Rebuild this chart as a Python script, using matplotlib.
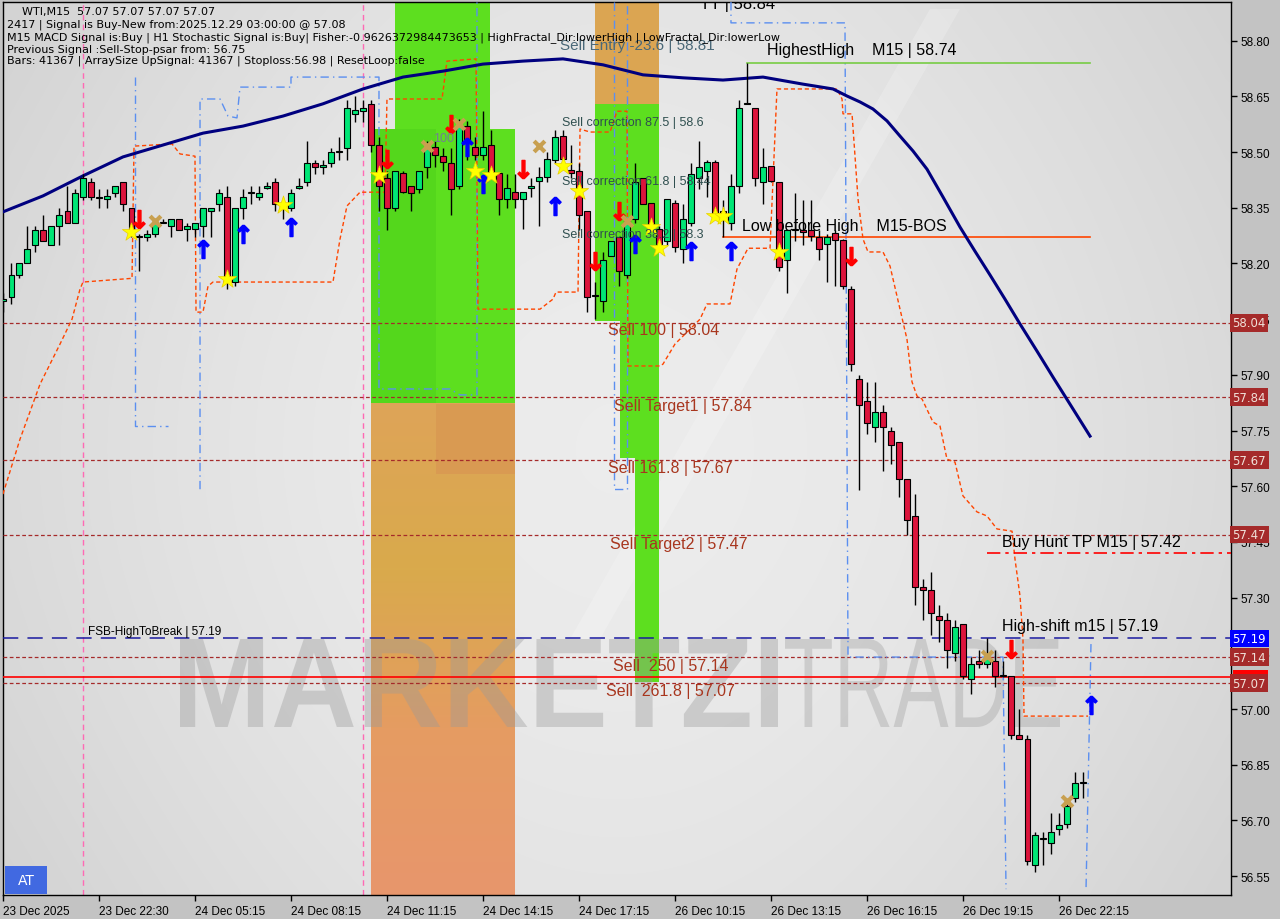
import numpy as np
import matplotlib.pyplot as plt
from matplotlib.patches import Rectangle, PathPatch, Polygon
from matplotlib.textpath import TextPath
from matplotlib.font_manager import FontProperties
from matplotlib.transforms import Affine2D, blended_transform_factory
from matplotlib.colors import LinearSegmentedColormap

# WTI M15 candles, bar index 0..135
opens = [58.10, 58.11, 58.17, 58.20, 58.25, 58.29, 58.25, 58.30, 58.34, 58.31,
         58.38, 58.42, 58.375, 58.373, 58.39, 58.42, 58.35, 58.27, 58.27, 58.28,
         58.31, 58.30, 58.32, 58.293, 58.293, 58.30, 58.34, 58.36, 58.38, 58.15,
         58.35, 58.39, 58.38, 58.402, 58.42, 58.35, 58.35, 58.402, 58.42, 58.47,
         58.461, 58.47, 58.50, 58.51, 58.603, 58.611, 58.63, 58.52, 58.43, 58.35,
         58.443, 58.41, 58.40, 58.46, 58.513, 58.49, 58.47, 58.41, 58.571, 58.513,
         58.492, 58.52, 58.443, 58.374, 58.392, 58.374, 58.403, 58.423, 58.432, 58.48,
         58.543, 58.452, 58.45, 58.34, 58.113, 58.10, 58.22, 58.27, 58.17, 58.32,
         58.43, 58.363, 58.293, 58.26, 58.363, 58.24, 58.31, 58.43, 58.45, 58.473,
         58.34, 58.31, 58.41, 58.63, 58.62, 58.42, 58.462, 58.42, 58.21, 58.29,
         58.29, 58.291, 58.27, 58.253, 58.282, 58.263, 58.13, 57.89, 57.83, 57.76,
         57.80, 57.75, 57.72, 57.62, 57.52, 57.33, 57.32, 57.25, 57.24, 57.15,
         57.23, 57.08, 57.13, 57.121, 57.13, 57.09, 57.09, 56.93, 56.92, 56.58,
         56.65, 56.64, 56.678, 56.69, 56.76, 56.80]
highs = [58.12, 58.20, 58.20, 58.30, 58.30, 58.33, 58.30, 58.35, 58.41, 58.40,
         58.44, 58.43, 58.40, 58.40, 58.41, 58.42, 58.35, 58.28, 58.29, 58.32,
         58.32, 58.32, 58.32, 58.31, 58.31, 58.35, 58.35, 58.40, 58.41, 58.35,
         58.40, 58.41, 58.41, 58.42, 58.43, 58.36, 58.40, 58.43, 58.53, 58.48,
         58.48, 58.51, 58.54, 58.64, 58.65, 58.64, 58.64, 58.54, 58.45, 58.45,
         58.45, 58.41, 58.45, 58.53, 58.53, 58.51, 58.51, 58.59, 58.585, 58.54,
         58.61, 58.56, 58.445, 58.44, 58.44, 58.392, 58.43, 58.46, 58.50, 58.56,
         58.56, 58.52, 58.47, 58.34, 58.15, 58.23, 58.26, 58.27, 58.32, 58.47,
         58.43, 58.363, 58.30, 58.374, 58.37, 58.36, 58.47, 58.53, 58.48, 58.48,
         58.37, 58.44, 58.64, 58.74, 58.62, 58.51, 58.462, 58.42, 58.29, 58.39,
         58.37, 58.37, 58.29, 58.28, 58.29, 58.265, 58.14, 57.90, 57.88, 57.88,
         57.82, 57.76, 57.72, 57.62, 57.58, 57.35, 57.37, 57.28, 57.26, 57.24,
         57.23, 57.14, 57.16, 57.19, 57.16, 57.13, 57.09, 57.00, 56.93, 56.67,
         56.67, 56.72, 56.72, 56.75, 56.83, 56.83]
lows = [58.07, 58.09, 58.16, 58.20, 58.23, 58.26, 58.25, 58.25, 58.31, 58.31,
        58.37, 58.37, 58.35, 58.35, 58.38, 58.34, 58.27, 58.18, 58.26, 58.27,
        58.31, 58.27, 58.29, 58.26, 58.27, 58.27, 58.27, 58.34, 58.13, 58.14,
        58.32, 58.36, 58.37, 58.40, 58.34, 58.32, 58.34, 58.40, 58.41, 58.44,
        58.44, 58.46, 58.48, 58.48, 58.58, 58.58, 58.50, 58.34, 58.29, 58.34,
        58.39, 58.34, 58.39, 58.43, 58.46, 58.45, 58.33, 58.40, 58.48, 58.48,
        58.48, 58.44, 58.33, 58.35, 58.35, 58.293, 58.38, 58.30, 58.42, 58.47,
        58.48, 58.43, 58.29, 58.07, 58.05, 58.07, 58.22, 58.14, 58.16, 58.31,
        58.36, 58.29, 58.24, 58.25, 58.23, 58.20, 58.30, 58.40, 58.38, 58.32,
        58.27, 58.29, 58.39, 58.63, 58.41, 58.36, 58.42, 58.18, 58.12, 58.26,
        58.25, 58.26, 58.21, 58.15, 58.14, 58.13, 57.91, 57.59, 57.74, 57.72,
        57.64, 57.66, 57.57, 57.47, 57.28, 57.24, 57.20, 57.18, 57.11, 57.13,
        57.08, 57.04, 57.11, 57.11, 57.06, 57.085, 56.92, 56.92, 56.58, 56.56,
        56.58, 56.61, 56.66, 56.68, 56.75, 56.76]
closes = [58.10, 58.17, 58.20, 58.24, 58.29, 58.26, 58.30, 58.33, 58.31, 58.39,
          58.43, 58.38, 58.375, 58.381, 58.41, 58.36, 58.29, 58.275, 58.28, 58.31,
          58.31, 58.32, 58.29, 58.30, 58.31, 58.35, 58.35, 58.39, 58.15, 58.35,
          58.38, 58.39, 58.39, 58.409, 58.36, 58.35, 58.39, 58.409, 58.47, 58.46,
          58.462, 58.50, 58.50, 58.62, 58.612, 58.62, 58.52, 58.41, 58.35, 58.45,
          58.392, 58.39, 58.45, 58.51, 58.492, 58.472, 58.40, 58.57, 58.526, 58.492,
          58.513, 58.446, 58.374, 58.403, 58.374, 58.392, 58.41, 58.432, 58.481, 58.54,
          58.481, 58.443, 58.33, 58.11, 58.113, 58.21, 58.26, 58.18, 58.32, 58.42,
          58.36, 58.302, 58.252, 58.374, 58.244, 58.32, 58.44, 58.46, 58.473, 58.33,
          58.33, 58.41, 58.62, 58.632, 58.43, 58.46, 58.421, 58.19, 58.29, 58.29,
          58.285, 58.275, 58.24, 58.27, 58.262, 58.14, 57.93, 57.82, 57.77, 57.80,
          57.76, 57.71, 57.62, 57.51, 57.33, 57.32, 57.26, 57.24, 57.16, 57.22,
          57.09, 57.12, 57.12, 57.139, 57.09, 57.09, 56.93, 56.92, 56.59, 56.66,
          56.65, 56.67, 56.688, 56.74, 56.80, 56.80]

# navy moving average, read at sampled bars
ma_bars = [-0.04, 4.96, 9.96, 14.96, 19.96, 24.96, 29.96, 34.96, 39.96, 44.96,
           49.96, 54.96, 59.96, 64.96, 69.96, 74.96, 79.96, 84.96, 89.96, 94.96,
           99.96, 103.71, 105.46, 107.09, 108.71, 110.46, 112.09, 113.71, 115.46,
           117.46, 119.59, 121.46, 123.34, 125.21, 127.09, 129.21, 131.21, 133.34,
           135.84]
ma_prices = [58.339, 58.382, 58.436, 58.487, 58.519, 58.551, 58.570, 58.597, 58.630,
             58.670, 58.702, 58.718, 58.737, 58.745, 58.751, 58.735, 58.708, 58.700,
             58.694, 58.702, 58.683, 58.670, 58.651, 58.635, 58.616, 58.584, 58.543,
             58.503, 58.454, 58.379, 58.298, 58.233, 58.169, 58.104, 58.037, 57.964,
             57.894, 57.821, 57.735]

# orange-red dashed stop line
stop_bars = [-0.04, 2.09, 4.59, 7.09, 8.59, 9.59, 9.96, 16.09, 16.34, 21.09, 22.09,
             23.96, 24.09, 24.96, 25.59, 26.21, 41.21, 42.09, 42.96, 44.59, 47.71,
             47.96, 54.84, 55.46, 59.09, 59.34, 67.09, 68.71, 69.09, 71.84, 72.09,
             73.34, 75.84, 76.71, 77.96, 78.09, 82.09, 82.46, 83.96, 87.09, 87.96,
             90.84, 91.71, 93.09, 95.84, 96.71, 104.21, 104.84, 104.96, 106.09,
             106.84, 107.46, 108.09, 109.96, 110.84, 112.09, 112.96, 113.59, 114.21,
             114.84, 116.21, 117.09, 117.96, 118.96, 119.96, 121.71, 122.96, 124.21,
             126.09, 126.46, 127.09, 127.46, 127.59, 135.59]
stop_prices = [57.579, 57.727, 57.875, 57.983, 58.050, 58.131, 58.150, 58.160, 58.516,
               58.522, 58.495, 58.489, 58.069, 58.069, 58.139, 58.150, 58.150, 58.266,
               58.355, 58.392, 58.392, 58.643, 58.643, 58.745, 58.751, 58.077, 58.077,
               58.104, 58.123, 58.123, 58.562, 58.554, 58.554, 58.610, 58.610, 57.924,
               57.924, 57.929, 57.983, 58.050, 58.091, 58.091, 58.185, 58.241, 58.241,
               58.670, 58.670, 58.643, 58.603, 58.603, 58.374, 58.266, 58.231, 58.231,
               58.193, 58.077, 57.996, 57.881, 57.843, 57.835, 57.773, 57.762, 57.673,
               57.665, 57.574, 57.531, 57.520, 57.485, 57.479, 57.404, 57.304, 57.188,
               56.981, 56.981]

# blue dash-dot channel segments (bar, price)
channel_paths = [
    [(16.46, 58.702), (16.46, 57.762), (20.59, 57.762)],
    [(24.59, 57.592), (24.59, 58.643), (27.09, 58.643), (28.09, 58.597), (29.21, 58.592),
     (29.59, 58.675), (35.96, 58.675), (35.96, 58.702), (46.96, 58.702), (46.96, 57.862),
     (55.84, 57.862), (57.09, 57.846), (59.21, 57.846), (59.21, 58.904)],
    [(76.34, 58.904), (76.34, 57.592), (77.96, 57.592), (77.96, 58.904)],
    [(90.96, 58.904), (90.96, 58.848), (105.21, 58.848), (105.59, 57.140), (124.96, 57.140),
     (125.34, 56.515)],
    [(135.96, 57.175), (135.34, 56.515)],
]

sell_down = [(17, 58.319), (48, 58.481), (56, 58.575), (65, 58.454), (74, 58.206),
             (77, 58.341), (106, 58.220), (126, 57.161)]
buy_up = [(25, 58.239), (30, 58.279), (36, 58.298), (58, 58.513), (60, 58.414),
          (69, 58.355), (79, 58.252), (86, 58.234), (91, 58.234), (136, 57.011)]
stars = [(16, 58.285), (28, 58.158), (35, 58.357), (47, 58.438), (59, 58.449),
         (61, 58.438), (70, 58.462), (72, 58.395), (81, 58.298), (82, 58.241),
         (89, 58.328), (90, 58.328), (97, 58.231)]
crosses = [(19, 58.314), (53, 58.516), (57, 58.575), (67, 58.516), (78, 58.314),
           (123, 57.142), (133, 56.752)]

level_prices = [58.04, 57.84, 57.67, 57.47, 57.14, 57.07]
level_texts = ["Sell 100 | 58.04", "Sell Target1 | 57.84", "Sell 161.8 | 57.67",
               "Sell Target2 | 57.47", "Sell  250 | 57.14", "Sell  261.8 | 57.07"]
level_text_x = [608, 614, 608, 610, 613, 606]
level_text_y = [331, 406, 469, 544, 667, 692]

price_ticks = [56.55, 56.70, 56.85, 57.00, 57.15, 57.30, 57.45, 57.60, 57.75,
               57.90, 58.05, 58.20, 58.35, 58.50, 58.65, 58.80]
label_bars = [0, 12, 24, 36, 48, 60, 72, 84, 96, 108, 120, 132]
time_labels = ["23 Dec 2025", "23 Dec 22:30", "24 Dec 05:15", "24 Dec 08:15",
               "24 Dec 11:15", "24 Dec 14:15", "24 Dec 17:15", "26 Dec 10:15",
               "26 Dec 13:15", "26 Dec 16:15", "26 Dec 19:15", "26 Dec 22:15"]

header_lines = [
    "WTI,M15  57.07 57.07 57.07 57.07",
    "2417 | Signal is Buy-New from:2025.12.29 03:00:00 @ 57.08",
    "M15 MACD Signal is:Buy | H1 Stochastic Signal is:Buy| Fisher:-0.9626372984473653 | "
    "HighFractal_Dir:lowerHigh | LowFractal_Dir:lowerLow",
    "Previous Signal :Sell-Stop-psar from: 56.75",
    "Bars: 41367 | ArraySize UpSignal: 41367 | Stoploss:56.98 | ResetLoop:false",
]

W, H = 1280, 920
XMIN, XMAX = -0.075, 153.425
YMIN, YMAX = 56.4992, 58.9042

fig = plt.figure(figsize=(12.8, 9.2), dpi=100, facecolor='#c3c3c3')
ax = fig.add_axes([2.7 / W, 24 / H, 1228 / W, 893 / H])


def fx(x):
    return x / W


def fy(y):
    return 1 - y / H


# background shading
gx = np.linspace(0, 1, 200)
gy = np.linspace(0, 1, 150)
bg = np.sin(np.pi * gx)[None, :] * 0.7 + np.sin(np.pi * gy)[:, None] * 0.3
cmap_bg = LinearSegmentedColormap.from_list('bg', ['#d3d3d3', '#ececec'])
ax.imshow(bg, extent=[XMIN, XMAX, YMIN, YMAX], aspect='auto', cmap=cmap_bg,
          zorder=0, interpolation='bicubic')

# faint logo stripe
ax.add_patch(Polygon([(fx(930), fy(10)), (fx(960), fy(10)), (fx(600), fy(640)), (fx(570), fy(640))],
                     closed=True, facecolor='white', edgecolor='none', alpha=0.2,
                     transform=fig.transFigure, zorder=0.5))

# zones
green = '#5ddf1f'
zones = [
    (48.95, 58.562, 60.84, YMAX, green),
    (45.96, 57.822, 63.96, 58.562, green),
    (45.96, 57.822, 54.09, 58.562, '#54d71c'),
    (73.96, 58.629, 81.96, YMAX, '#dba552'),
    (73.96, 58.045, 81.96, 58.629, green),
    (77.09, 57.676, 81.96, 58.045, green),
    (78.96, 57.073, 81.96, 57.676, green),
]
for x0, y0, x1, y1, c in zones:
    ax.add_patch(Rectangle((x0, y0), x1 - x0, y1 - y0, facecolor=c, edgecolor='none', zorder=1))

# orange zone with soft vertical tint
cmap_or = LinearSegmentedColormap.from_list('or', ['#e8966c', '#e59c62', '#d9aa4c', '#dea458'])
ax.imshow(np.linspace(0, 1, 50)[:, None], extent=[45.96, 63.96, YMIN, 57.822], origin='lower',
          aspect='auto', cmap=cmap_or, zorder=1, interpolation='bicubic')
ax.add_patch(Rectangle((54.09, 57.633), 63.96 - 54.09, 57.822 - 57.633,
                       facecolor='#d99a52', edgecolor='none', zorder=1.1))
ax.set_xlim(XMIN, XMAX)
ax.set_ylim(YMIN, YMAX)


# watermark text
def watermark(txt, box, weight, color, alpha):
    tp = TextPath((0, 0), txt, size=100,
                  prop=FontProperties(family='Liberation Sans', weight=weight))
    bb = tp.get_extents()
    x0, x1, y0, y1 = fx(box[0]), fx(box[1]), fy(box[3]), fy(box[2])
    tr = Affine2D().translate(-bb.x0, -bb.y0).scale((x1 - x0) / bb.width,
                                                     (y1 - y0) / bb.height).translate(x0, y0)
    ax.add_patch(PathPatch(tr.transform_path(tp), facecolor=color, edgecolor='none',
                           alpha=alpha, transform=fig.transFigure, zorder=2))


watermark("MARKETZI", (180, 778, 640, 728), 'bold', '#9a9a9a', 0.38)
watermark("TRADE", (785, 1060, 640, 728), 'normal', '#a0a0a0', 0.38)

# pink day separators
for b in [9.96, 44.96]:
    ax.axvline(b, color='#ff69b4', lw=1, ls=(0, (4, 3)), zorder=2)

# level lines
for p in level_prices:
    ax.axhline(p, color='#a52a2a', lw=0.9, ls=(0, (3, 2)), zorder=3)
ax.axhline(57.085, color='#ff0000', lw=1.2, zorder=3)
ax.axhline(57.19, color='#1a1aa0', lw=1.1, ls=(0, (10, 6)), zorder=3)

# blue channel
for path in channel_paths:
    xs, ys = zip(*path)
    ax.plot(xs, ys, color='#5b8ff0', lw=1, ls=(0, (6, 3, 1, 3)), zorder=3)

# stop line
ax.plot(stop_bars, stop_prices, color='#ff4500', lw=1, ls=(0, (3, 2)), zorder=3)

# moving average
ax.plot(ma_bars, ma_prices, color='#00007f', lw=2.2, zorder=4)

# structure lines
ax.plot([93, 135.9], [58.74, 58.74], color='#77cc44', lw=1.2, zorder=3)
ax.plot([90, 135.9], [58.271, 58.271], color='#ff4500', lw=1.2, zorder=3)
ax.plot([123, XMAX], [57.42, 57.42], color='#ff0000', lw=1.2, ls=(0, (8, 3, 2, 3)), zorder=3)

# candles
xs = np.arange(len(opens))
o = np.array(opens)
c = np.array(closes)
ax.vlines(xs, lows, highs, color='black', lw=1, zorder=5)
body_col = np.where(c >= o, '#00e676', '#dc143c')
body_h = np.maximum(np.abs(c - o), 0.003)
ax.bar(xs, body_h, bottom=np.minimum(o, c), width=0.7, color=body_col,
       edgecolor='black', linewidth=0.8, zorder=6)

# signal markers
bx, by = zip(*buy_up)
ax.scatter(bx, by, marker=r'$\mathbf{\uparrow}$', s=170, color='#0000ff', zorder=7)
sx, sy = zip(*sell_down)
ax.scatter(sx, sy, marker=r'$\mathbf{\downarrow}$', s=170, color='#ff0000', zorder=7)
tx, ty = zip(*stars)
ax.scatter(tx, ty, marker='*', s=190, color='#ffff00', edgecolor='#e8d000', lw=0.5, zorder=7)
cx, cy = zip(*crosses)
ax.scatter(cx, cy, marker='x', s=60, color='#c8a050', lw=3, zorder=7)

# level annotations
for t, x, y in zip(level_texts, level_text_x, level_text_y):
    fig.text(fx(x), fy(y), t, color='#a8361e', fontsize=11.5, family='Liberation Sans', va='center')

fig.text(fx(560), fy(46), "Sell Entry -23.6 | 58.81", color='#4a6878', fontsize=11,
         family='Liberation Sans', va='center')
for t, y in [("Sell correction 87.5 | 58.6", 123), ("Sell correction 61.8 | 58.44", 182),
             ("Sell correction 38.2 | 58.3", 235)]:
    fig.text(fx(562), fy(y), t, color='#2f4f4f', fontsize=9, family='Liberation Sans', va='center')
fig.text(fx(433), fy(139), "100", color='#708090', fontsize=9, family='Liberation Sans', va='center')
fig.text(fx(767), fy(51), "HighestHigh    M15 | 58.74", color='black', fontsize=11.5,
         family='Liberation Sans', va='center')
fig.text(fx(742), fy(227), "Low before High    M15-BOS", color='black', fontsize=11.5,
         family='Liberation Sans', va='center')
fig.text(fx(1002), fy(542), "Buy Hunt TP M15 | 57.42", color='black', fontsize=11.5,
         family='Liberation Sans', va='center')
fig.text(fx(1002), fy(627), "High-shift m15 | 57.19", color='black', fontsize=11.5,
         family='Liberation Sans', va='center')
fig.text(fx(88), fy(632), "FSB-HighToBreak | 57.19", color='black', fontsize=8.5,
         family='Liberation Sans', va='center')
ax.text(87.09, 58.899, "TT | 58.84", color='black', fontsize=12, family='Liberation Sans',
        va='center', clip_on=True, zorder=8)

# header
fig.text(fx(22), fy(12), header_lines[0], fontsize=8, va='center', color='black')
for i, t in enumerate(header_lines[1:]):
    fig.text(fx(7), fy([25, 38, 50, 61][i]), t, fontsize=8, va='center', color='black')

# price boxes on right axis
trans = blended_transform_factory(ax.transAxes, ax.transData)
ax.add_patch(Rectangle((1.0015, 57.066), 0.029, 0.038, transform=trans, facecolor='#ff0000',
                       edgecolor='none', clip_on=False, zorder=9))
for p in level_prices:
    ax.text(1.0015, p, f"{p:.2f}", transform=trans, fontsize=8.5, color='#f0e0d8', va='center',
            clip_on=False, zorder=10,
            bbox=dict(boxstyle='square,pad=0.2', fc='#a52a2a', ec='none'))
ax.text(1.0015, 57.19, "57.19", transform=trans, fontsize=8.5, color='white', va='center',
        clip_on=False, zorder=10, bbox=dict(boxstyle='square,pad=0.2', fc='#0000ff', ec='none'))

# AT badge
fig.patches.append(Rectangle((fx(5), fy(895)), fx(42), 28 / H, transform=fig.transFigure,
                             facecolor='#4169e1', edgecolor='none', figure=fig))
fig.text(fx(26), fy(881), "AT", color='white', fontsize=10, ha='center', va='center')

# axes styling
ax.yaxis.tick_right()
ax.set_yticks(price_ticks)
ax.set_yticklabels([f"{p:.2f}" for p in price_ticks])
ax.set_xticks(label_bars)
ax.set_xticklabels(time_labels, ha='left')
ax.tick_params(axis='both', direction='out', length=4, width=1, labelsize=8.5, colors='black',
               pad=3)
for lab in ax.get_xticklabels() + ax.get_yticklabels():
    lab.set_family('Liberation Sans')
for s in ax.spines.values():
    s.set_color('black')
    s.set_linewidth(1)

fig.savefig('out.png', dpi=100, facecolor=fig.get_facecolor())
